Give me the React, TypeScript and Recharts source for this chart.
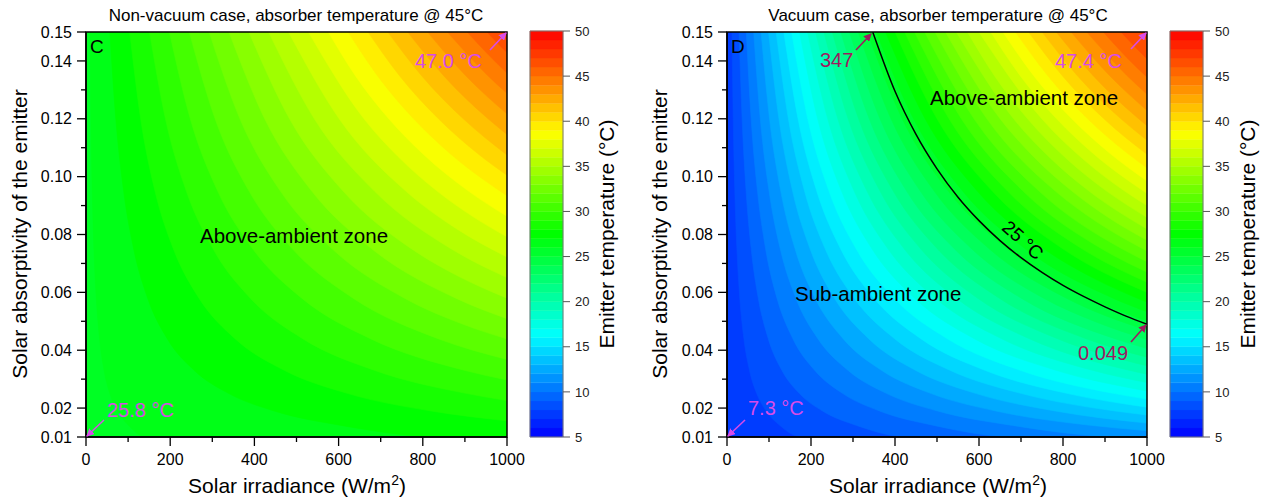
import React from 'react';
import { ComposedChart, Area, Line, XAxis, YAxis, ReferenceArea } from 'recharts';

const FONT = '"Liberation Sans", Arial, sans-serif';
const MAGENTA = '#d84be8';
const BERRY = '#a01a60';

const X_TICKS = [0, 100, 200, 300, 400, 500, 600, 700, 800, 900, 1000];
const X_LABELED = [0, 200, 400, 600, 800, 1000];
const Y_TICKS = [0.01, 0.02, 0.03, 0.04, 0.05, 0.06, 0.07, 0.08, 0.09, 0.1, 0.11, 0.12, 0.13, 0.14, 0.15];
const Y_LABELED = [1, 2, 4, 6, 8, 10, 12, 14, 15]; // in hundredths
const CBAR_TICKS = [5, 10, 15, 20, 25, 30, 35, 40, 45, 50];
const CBAR_BANDS = [5, 6, 7, 8, 9, 10, 11, 12, 13, 14, 15, 16, 17, 18, 19, 20, 21, 22, 23, 24, 25, 26, 27, 28, 29,
  30, 31, 32, 33, 34, 35, 36, 37, 38, 39, 40, 41, 42, 43, 44, 45, 46, 47, 48, 49];

// non-vacuum case: corner temps and 1 °C isotherms as [irradiance W/m2, absorptivity]
const NONVAC_RANGE = [25.8, 47.0];
const NONVAC_LEVELS = [26, 27, 28, 29, 30, 31, 32, 33, 34, 35, 36, 37, 38, 39, 40, 41, 42, 43, 44, 45, 46];
const NONVAC_CONTOURS = [
  [[9.5, 0.15], [11.8, 0.12], [14.9, 0.095], [18.9, 0.075], [24.5, 0.058], [32.3, 0.044], [43, 0.033], [56.8, 0.025], [74.7, 0.019], [101.4, 0.014], [142, 0.01], [1000, 0.01]],
  [[56.6, 0.15], [70.8, 0.12], [89.4, 0.095], [113.2, 0.075], [146.4, 0.058], [193, 0.044], [257.3, 0.033], [339.6, 0.025], [446.8, 0.019], [606.4, 0.014], [849, 0.01], [1000, 0.01]],
  [[103.8, 0.15], [129.8, 0.12], [163.9, 0.095], [207.6, 0.075], [268.4, 0.058], [353.9, 0.044], [471.8, 0.033], [622.8, 0.025], [819.5, 0.019], [1000, 0.0156]],
  [[150.9, 0.15], [188.7, 0.12], [238.3, 0.095], [301.9, 0.075], [390.3, 0.058], [514.5, 0.044], [686.1, 0.033], [905.6, 0.025], [1000, 0.0226]],
  [[198.1, 0.15], [247.7, 0.12], [312.8, 0.095], [396.3, 0.075], [512.4, 0.058], [675.5, 0.044], [900.6, 0.033], [1000, 0.0297]],
  [[245.3, 0.15], [306.6, 0.12], [387.3, 0.095], [490.5, 0.075], [634.3, 0.058], [836.1, 0.044], [1000, 0.0368]],
  [[292.5, 0.15], [365.6, 0.12], [461.8, 0.095], [584.9, 0.075], [756.4, 0.058], [897, 0.0489], [1000, 0.0439]],
  [[339.6, 0.15], [424.5, 0.12], [536.2, 0.095], [679.2, 0.075], [878.3, 0.058], [1000, 0.0509]],
  [[386.8, 0.15], [483.5, 0.12], [610.7, 0.095], [773.6, 0.075], [887, 0.0654], [1000, 0.058]],
  [[433.9, 0.15], [542.4, 0.12], [685.1, 0.095], [867.9, 0.075], [1000, 0.0651]],
  [[481.1, 0.15], [601.4, 0.12], [759.7, 0.095], [880, 0.082], [1000, 0.0722]],
  [[528.3, 0.15], [660.3, 0.12], [740, 0.1071], [834.1, 0.095], [920, 0.0861], [1000, 0.0792]],
  [[575.5, 0.15], [639.4, 0.135], [719.3, 0.12], [799.3, 0.108], [908.6, 0.095], [1000, 0.0863]],
  [[622.6, 0.15], [691.8, 0.135], [778.3, 0.12], [864.7, 0.108], [1000, 0.0934]],
  [[669.8, 0.15], [744.2, 0.135], [837.3, 0.12], [930.3, 0.108], [1000, 0.1005]],
  [[716.9, 0.15], [796.6, 0.135], [896.2, 0.12], [1000, 0.1075]],
  [[764.1, 0.15], [849, 0.135], [955.2, 0.12], [1000, 0.1146]],
  [[811.3, 0.15], [901.4, 0.135], [950, 0.1281], [1000, 0.1217]],
  [[858.5, 0.15], [953.9, 0.135], [1000, 0.1288]],
  [[905.6, 0.15], [952, 0.1427], [1000, 0.1358]],
  [[952.8, 0.15], [976, 0.1464], [1000, 0.1429]],
];

// vacuum case
const VAC_RANGE = [7.3, 47.4];
const VAC_LEVELS = [8, 9, 10, 11, 12, 13, 14, 15, 16, 17, 18, 19, 20, 21, 22, 23, 24, 25, 26, 27,
  28, 29, 30, 31, 32, 33, 34, 35, 36, 37, 38, 39, 40, 41, 42, 43, 44, 45, 46, 47];
const VAC_CONTOURS = [
  [[11.8, 0.15], [14.8, 0.12], [18.6, 0.095], [23.6, 0.075], [30.5, 0.058], [40.2, 0.044], [53.6, 0.033], [70.8, 0.025], [93.2, 0.019], [126, 0.014], [177, 0.01], [1000, 0.01]],
  [[28.8, 0.15], [36, 0.12], [45.5, 0.095], [57.6, 0.075], [74.5, 0.058], [98.2, 0.044], [130.9, 0.033], [172.8, 0.025], [227.4, 0.019], [308.6, 0.014], [432, 0.01], [1000, 0.01]],
  [[46, 0.15], [57.5, 0.12], [72.6, 0.095], [92, 0.075], [119, 0.058], [156.8, 0.044], [209.1, 0.033], [276, 0.025], [363.2, 0.019], [492.9, 0.014], [690, 0.01], [1000, 0.01]],
  [[63.5, 0.15], [79.3, 0.12], [100.2, 0.095], [126.9, 0.075], [164.1, 0.058], [216.4, 0.044], [288.5, 0.033], [380.8, 0.025], [501.1, 0.019], [680, 0.014], [952, 0.01], [1000, 0.01]],
  [[81.1, 0.15], [101.3, 0.12], [128, 0.095], [162.1, 0.075], [209.7, 0.058], [276.4, 0.044], [368.5, 0.033], [486.4, 0.025], [640, 0.019], [868.6, 0.014], [1000, 0.0122]],
  [[98.9, 0.15], [123.7, 0.12], [156.2, 0.095], [197.9, 0.075], [255.9, 0.058], [337.3, 0.044], [449.7, 0.033], [593.6, 0.025], [781.1, 0.019], [1000, 0.0148]],
  [[117, 0.15], [146.2, 0.12], [184.7, 0.095], [234, 0.075], [302.6, 0.058], [398.9, 0.044], [531.8, 0.033], [702, 0.025], [923.7, 0.019], [1000, 0.0176]],
  [[135.3, 0.15], [169.2, 0.12], [213.7, 0.095], [270.7, 0.075], [350, 0.058], [461.4, 0.044], [615.2, 0.033], [812, 0.025], [1000, 0.0203]],
  [[153.9, 0.15], [192.3, 0.12], [242.9, 0.095], [307.7, 0.075], [397.9, 0.058], [524.5, 0.044], [699.4, 0.033], [923.2, 0.025], [1000, 0.0231]],
  [[172.7, 0.15], [215.8, 0.12], [272.6, 0.095], [345.3, 0.075], [446.6, 0.058], [588.6, 0.044], [784.8, 0.033], [1000, 0.0259]],
  [[191.7, 0.15], [239.7, 0.12], [302.7, 0.095], [383.5, 0.075], [495.9, 0.058], [653.6, 0.044], [871.5, 0.033], [1000, 0.0288]],
  [[211.1, 0.15], [263.8, 0.12], [333.3, 0.095], [422.1, 0.075], [545.9, 0.058], [719.5, 0.044], [959.4, 0.033], [1000, 0.0317]],
  [[230.7, 0.15], [288.4, 0.12], [364.3, 0.095], [461.5, 0.075], [596.7, 0.058], [786.6, 0.044], [1000, 0.0346]],
  [[250.7, 0.15], [313.3, 0.12], [395.8, 0.095], [501.3, 0.075], [648.3, 0.058], [854.5, 0.044], [1000, 0.0376]],
  [[270.9, 0.15], [338.6, 0.12], [427.7, 0.095], [541.7, 0.075], [700.5, 0.058], [923.4, 0.044], [1000, 0.0406]],
  [[291.5, 0.15], [364.3, 0.12], [460.2, 0.095], [582.9, 0.075], [753.8, 0.058], [880, 0.0497], [1000, 0.0437]],
  [[312.4, 0.15], [390.5, 0.12], [493.3, 0.095], [624.8, 0.075], [807.9, 0.058], [1000, 0.0469]],
  [[333.7, 0.15], [417.2, 0.12], [526.9, 0.095], [667.5, 0.075], [863.1, 0.058], [1000, 0.0501]],
  [[355.4, 0.15], [444.2, 0.12], [561.1, 0.095], [710.8, 0.075], [919.1, 0.058], [1000, 0.0533]],
  [[377.5, 0.15], [471.8, 0.12], [596, 0.095], [754.9, 0.075], [870, 0.0651], [1000, 0.0566]],
  [[400.1, 0.15], [500.1, 0.12], [631.7, 0.095], [800.1, 0.075], [1000, 0.06]],
  [[423, 0.15], [528.7, 0.12], [667.9, 0.095], [846, 0.075], [1000, 0.0635]],
  [[446.5, 0.15], [558.1, 0.12], [704.9, 0.095], [892.9, 0.075], [1000, 0.067]],
  [[470.5, 0.15], [588.2, 0.12], [742.9, 0.095], [941.1, 0.075], [1000, 0.0706]],
  [[495.1, 0.15], [618.8, 0.12], [781.7, 0.095], [880, 0.0844], [1000, 0.0743]],
  [[520.2, 0.15], [650.3, 0.12], [730, 0.1069], [821.4, 0.095], [910, 0.0857], [1000, 0.078]],
  [[546, 0.15], [682.5, 0.12], [770, 0.1064], [862.1, 0.095], [1000, 0.0819]],
  [[572.5, 0.15], [640, 0.1342], [715.7, 0.12], [810, 0.106], [904, 0.095], [1000, 0.0859]],
  [[599.8, 0.15], [749.7, 0.12], [850, 0.1058], [947, 0.095], [1000, 0.09]],
  [[627.9, 0.15], [697.6, 0.135], [784.8, 0.12], [872, 0.108], [1000, 0.0942]],
  [[656.9, 0.15], [729.8, 0.135], [821.1, 0.12], [912.3, 0.108], [1000, 0.0985]],
  [[686.9, 0.15], [763.2, 0.135], [858.6, 0.12], [954, 0.108], [1000, 0.103]],
  [[718, 0.15], [797.8, 0.135], [897.5, 0.12], [1000, 0.1077]],
  [[750.3, 0.15], [833.7, 0.135], [937.9, 0.12], [1000, 0.1126]],
  [[784.1, 0.15], [871.3, 0.135], [926.1, 0.127], [1000, 0.1176]],
  [[819.5, 0.15], [910.5, 0.135], [955, 0.1287], [1000, 0.1229]],
  [[856.7, 0.15], [951.9, 0.135], [1000, 0.1285]],
  [[896.1, 0.15], [951, 0.1413], [1000, 0.1344]],
  [[938.3, 0.15], [970.6, 0.145], [1000, 0.1407]],
  [[983.6, 0.15], [1000, 0.1475]],
];

// 25 °C isotherm, vacuum case (347 W/m2 at top, 0.049 at right edge)
const CONTOUR_25 = [[347, 0.15], [400, 0.1295], [450, 0.1146], [500, 0.1027], [550, 0.0929], [600, 0.0848], [650, 0.0779],
  [700, 0.072], [750, 0.0669], [800, 0.0624], [850, 0.0585], [900, 0.055], [950, 0.0518], [1000, 0.049]];

const STOPS: [number, number[]][] = [
  [5, [0, 0, 255]],
  [16.25, [0, 255, 255]],
  [27.5, [0, 255, 0]],
  [38.75, [255, 255, 0]],
  [50, [255, 0, 0]],
];

const cmap = (t: number) => {
  const v = Math.max(5, Math.min(50, t));
  for (let i = 0; i < STOPS.length - 1; i++) {
    const [a, ca] = STOPS[i];
    const [b, cb] = STOPS[i + 1];
    if (v <= b) {
      const f = (v - a) / (b - a);
      const c = ca.map((c0, k) => Math.round(c0 + (cb[k] - c0) * f));
      return `rgb(${c[0]},${c[1]},${c[2]})`;
    }
  }
  return 'rgb(255,0,0)';
};

const pts = (arr: number[][]) => arr.map(([x, y]) => ({ x, y }));

const XTick = (props: any) => {
  const { x, y, payload } = props;
  const major = X_LABELED.includes(payload.value);
  const axisY = y - 17;
  return (
    <g>
      <line x1={x} x2={x} y1={axisY} y2={axisY + (major ? 9 : 5)} stroke="#000" strokeWidth={1.3} />
      {major && (
        <text x={x} y={y} dy="0.71em" textAnchor="middle" fontSize={16} fontFamily={FONT} fill="#000">
          {payload.value}
        </text>
      )}
    </g>
  );
};

const YTick = (props: any) => {
  const { x, y, payload } = props;
  const major = Y_LABELED.includes(Math.round(payload.value * 100));
  const axisX = x + 14;
  return (
    <g>
      <line x1={axisX - (major ? 9 : 5)} x2={axisX} y1={y} y2={y} stroke="#000" strokeWidth={1.3} />
      {major && (
        <text x={x} y={y} dy="0.35em" textAnchor="end" fontSize={16} fontFamily={FONT} fill="#000">
          {payload.value.toFixed(2)}
        </text>
      )}
    </g>
  );
};

const HeatPanel = ({ left, marginLeft, levels, contours, range, isoLine }: any) => {
  const colors = levels.map((l: number, i: number) =>
    cmap(i < levels.length - 1 ? (l + levels[i + 1]) / 2 : (l + range[1]) / 2)
  );
  return (
    <div style={{ position: 'absolute', left, top: 0 }}>
      <ComposedChart width={540} height={501} margin={{ top: 32, right: 33, bottom: 24, left: marginLeft }}>
        <XAxis type="number" dataKey="x" domain={[0, 1000]} ticks={X_TICKS} interval={0} allowDataOverflow
          height={40} tickSize={10} tickMargin={7} tickLine={false} tick={<XTick />}
          axisLine={{ stroke: '#000', strokeWidth: 1.5 }} />
        <YAxis type="number" dataKey="y" domain={[0.01, 0.15]} ticks={Y_TICKS} interval={0} allowDataOverflow
          width={50} tickSize={9} tickMargin={5} tickLine={false} tick={<YTick />}
          axisLine={{ stroke: '#000', strokeWidth: 1.5 }} />
        <ReferenceArea x1={0} x2={1000} y1={0.01} y2={0.15} fill={cmap((range[0] + levels[0]) / 2)}
          fillOpacity={1} stroke="none" />
        {contours.map((c: number[][], i: number) => (
          <Area key={i} data={pts(c)} dataKey="y" type="monotone" baseValue="dataMax" fill={colors[i]}
            fillOpacity={1} stroke={colors[i]} strokeWidth={0.6} dot={false} activeDot={false}
            isAnimationActive={false} />
        ))}
        {isoLine && (
          <Line data={pts(isoLine)} dataKey="y" type="monotone" stroke="#000" strokeWidth={1.5} dot={false}
            activeDot={false} isAnimationActive={false} />
        )}
        <ReferenceArea x1={0} x2={1000} y1={0.01} y2={0.15} fill="none" stroke="#000" strokeWidth={1.5} />
      </ComposedChart>
    </div>
  );
};

const CBAR_DATA = CBAR_BANDS.map((b) => ({ x: 0.5, t: b }));

const ColorBar = ({ left }: any) => (
  <div style={{ position: 'absolute', left, top: 0 }}>
    <ComposedChart width={100} height={501} data={CBAR_DATA} margin={{ top: 31, right: 17, bottom: 64, left: 10 }}>
      <XAxis type="number" dataKey="x" domain={[0, 1]} hide />
      <YAxis type="number" dataKey="t" orientation="right" domain={[5, 50]} ticks={CBAR_TICKS} interval={0}
        width={40} tickSize={7} tickMargin={5} axisLine={false} tickLine={{ stroke: '#555' }}
        tick={{ fontSize: 13, fill: '#222', fontFamily: FONT }} />
      {CBAR_BANDS.map((b) => (
        <ReferenceArea key={b} x1={0} x2={1} y1={b} y2={b + 1} fill={cmap(b + 0.5)} fillOpacity={1}
          stroke={cmap(b + 0.5)} strokeWidth={0.4} />
      ))}
      <Line dataKey="t" stroke="none" dot={false} activeDot={false} isAnimationActive={false} />
      <ReferenceArea x1={0} x2={1} y1={5} y2={50} fill="none" stroke="#777" strokeWidth={1} />
    </ComposedChart>
  </div>
);

const Arrow = ({ x1, y1, x2, y2, color, id }: any) => (
  <line x1={x1} y1={y1} x2={x2} y2={y2} stroke={color} strokeWidth={1.6} markerEnd={`url(#${id})`} />
);

const Overlay = () => (
  <svg width={1268} height={501} style={{ position: 'absolute', left: 0, top: 0, pointerEvents: 'none' }}
    fontFamily={FONT}>
    <defs>
      <marker id="amag" markerWidth="8" markerHeight="8" refX="7" refY="4" orient="auto" markerUnits="userSpaceOnUse">
        <path d="M0,0 L8,4 L0,8 Z" fill={MAGENTA} />
      </marker>
      <marker id="aberry" markerWidth="8" markerHeight="8" refX="7" refY="4" orient="auto" markerUnits="userSpaceOnUse">
        <path d="M0,0 L8,4 L0,8 Z" fill={BERRY} />
      </marker>
    </defs>

    <text x={296} y={21} textAnchor="middle" fontSize={17}>Non-vacuum case, absorber temperature @ 45°C</text>
    <text x={938} y={21} textAnchor="middle" fontSize={17}>Vacuum case, absorber temperature @ 45°C</text>

    {[297, 938].map((cx) => (
      <text key={cx} x={cx} y={493} textAnchor="middle" fontSize={21}>
        Solar irradiance (W/m<tspan dy={-8} fontSize={14}>2</tspan><tspan dy={8}>)</tspan>
      </text>
    ))}
    {[27, 667].map((bx) => (
      <text key={bx} transform={`translate(${bx},234) rotate(-90)`} textAnchor="middle" fontSize={21}>
        Solar absorptivity of the emitter
      </text>
    ))}
    {[614, 1255].map((bx) => (
      <text key={bx} transform={`translate(${bx},234) rotate(-90)`} textAnchor="middle" fontSize={21}>
        Emitter temperature (°C)
      </text>
    ))}

    <text x={90} y={53} fontSize={19}>C</text>
    <text x={731} y={53} fontSize={19}>D</text>

    <text x={200} y={243} fontSize={20.5}>Above-ambient zone</text>
    <text x={930} y={105} fontSize={20.5}>Above-ambient zone</text>
    <text x={795} y={301} fontSize={20.5}>Sub-ambient zone</text>

    <text x={415} y={68} fontSize={20} fill={MAGENTA}>47.0 °C</text>
    <Arrow x1={490} y1={50} x2={506} y2={33} color={MAGENTA} id="amag" />
    <text x={107} y={417} fontSize={20} fill={MAGENTA}>25.8 °C</text>
    <Arrow x1={104} y1={420} x2={87} y2={436} color={MAGENTA} id="amag" />

    <text x={1055} y={68} fontSize={20} fill={MAGENTA}>47.4 °C</text>
    <Arrow x1={1131} y1={49} x2={1146} y2={33} color={MAGENTA} id="amag" />
    <text x={748} y={415} fontSize={20} fill={MAGENTA}>7.3 °C</text>
    <Arrow x1={745} y1={420} x2={728} y2={436} color={MAGENTA} id="amag" />

    <text x={820} y={67} fontSize={20} fill={BERRY}>347</text>
    <Arrow x1={856} y1={50} x2={871} y2={34} color={BERRY} id="aberry" />
    <text x={1078} y={360} fontSize={20} fill={BERRY}>0.049</text>
    <Arrow x1={1131} y1={342} x2={1146} y2={325} color={BERRY} id="aberry" />

    <text transform="translate(1023,240) rotate(42)" textAnchor="middle" dy="0.35em" fontSize={19}>25 °C</text>
  </svg>
);

const App = () => (
  <div style={{ position: 'absolute', left: 0, top: 0, width: 1268, height: 501, background: '#fff', fontFamily: FONT }}>
    <HeatPanel left={0} marginLeft={36} levels={NONVAC_LEVELS} contours={NONVAC_CONTOURS} range={NONVAC_RANGE} />
    <ColorBar left={520} />
    <HeatPanel left={640} marginLeft={37} levels={VAC_LEVELS} contours={VAC_CONTOURS} range={VAC_RANGE}
      isoLine={CONTOUR_25} />
    <ColorBar left={1160} />
    <Overlay />
  </div>
);

export default App;
